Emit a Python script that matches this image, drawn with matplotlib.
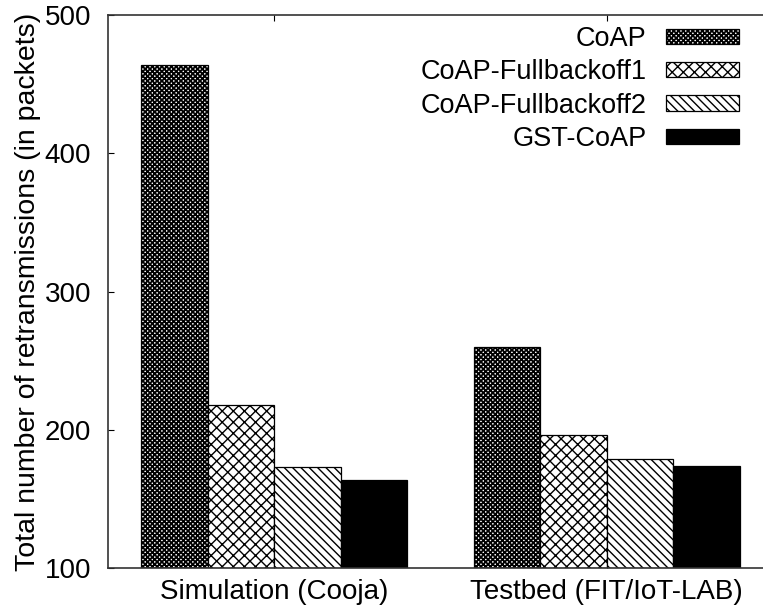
import numpy as np
import matplotlib
matplotlib.use("Agg")
import matplotlib.pyplot as plt

## data
groups = ["Simulation (Cooja)", "Testbed (FIT/IoT-LAB)"]
series = ["CoAP", "CoAP-Fullbackoff1", "CoAP-Fullbackoff2", "GST-CoAP"]
coap = [464, 260]
coap_fb1 = [218, 196]
coap_fb2 = [173, 179]
gst_coap = [164, 174]
y_ticks = [100, 200, 300, 400, 500]

values = [coap, coap_fb1, coap_fb2, gst_coap]
hatches = ["xxxxxxx", "xxx", "\\\\\\\\", ""]
hatch_lw = [1.3, 1.0, 1.0, 1.0]
faces = ["white", "white", "white", "black"]

plt.rcParams["font.family"] = ["Liberation Sans", "DejaVu Sans"]
plt.rcParams["hatch.linewidth"] = 1.0
plt.rcParams["hatch.color"] = "black"

fig = plt.figure(figsize=(7.63, 6.13), dpi=100)
ax = fig.add_axes([0.1415, 0.0734, 0.8716, 0.9021])

## bars, 4 per group, groups 5 bar widths apart
centers = np.arange(len(groups)) * 5.0
for i, name in enumerate(series):
    bars = ax.bar(
        centers + (i - 1.5),
        np.array(values[i]) - 100,
        bottom=100,
        width=1.0,
        color=faces[i],
        edgecolor="black",
        linewidth=0.9,
        hatch=hatches[i],
        label=name,
    )
    for p in bars:
        if hasattr(p, "set_hatch_linewidth"):
            p.set_hatch_linewidth(hatch_lw[i])

ax.set_xlim(-2.5, 7.5)
ax.set_ylim(100, 500)
ax.set_yticks(y_ticks)
ax.set_xticks(centers)
ax.set_xticklabels(groups)
ax.set_ylabel("Total number of retransmissions (in packets)", fontsize=20.5, labelpad=3)

ax.tick_params(axis="y", direction="in", length=4, labelsize=20, pad=12)
ax.tick_params(axis="x", direction="in", length=4, labelsize=20, pad=8, top=True)
ax.set_axisbelow(True)
for sp in ax.spines.values():
    sp.set_linewidth(1.2)
    sp.set_color("#333333")

leg = ax.legend(
    loc="upper right",
    bbox_to_anchor=(739 / 763, 1 - 26 / 613),
    bbox_transform=fig.transFigure,
    frameon=False,
    markerfirst=False,
    fontsize=19.5,
    handlelength=2.7,
    handleheight=0.5,
    handletextpad=0.72,
    labelspacing=0.27,
    borderpad=0,
    borderaxespad=0,
)
for h, lw in zip(leg.legend_handles, hatch_lw):
    if hasattr(h, "set_hatch_linewidth"):
        h.set_hatch_linewidth(lw)

plt.savefig("out.png", dpi=100)
